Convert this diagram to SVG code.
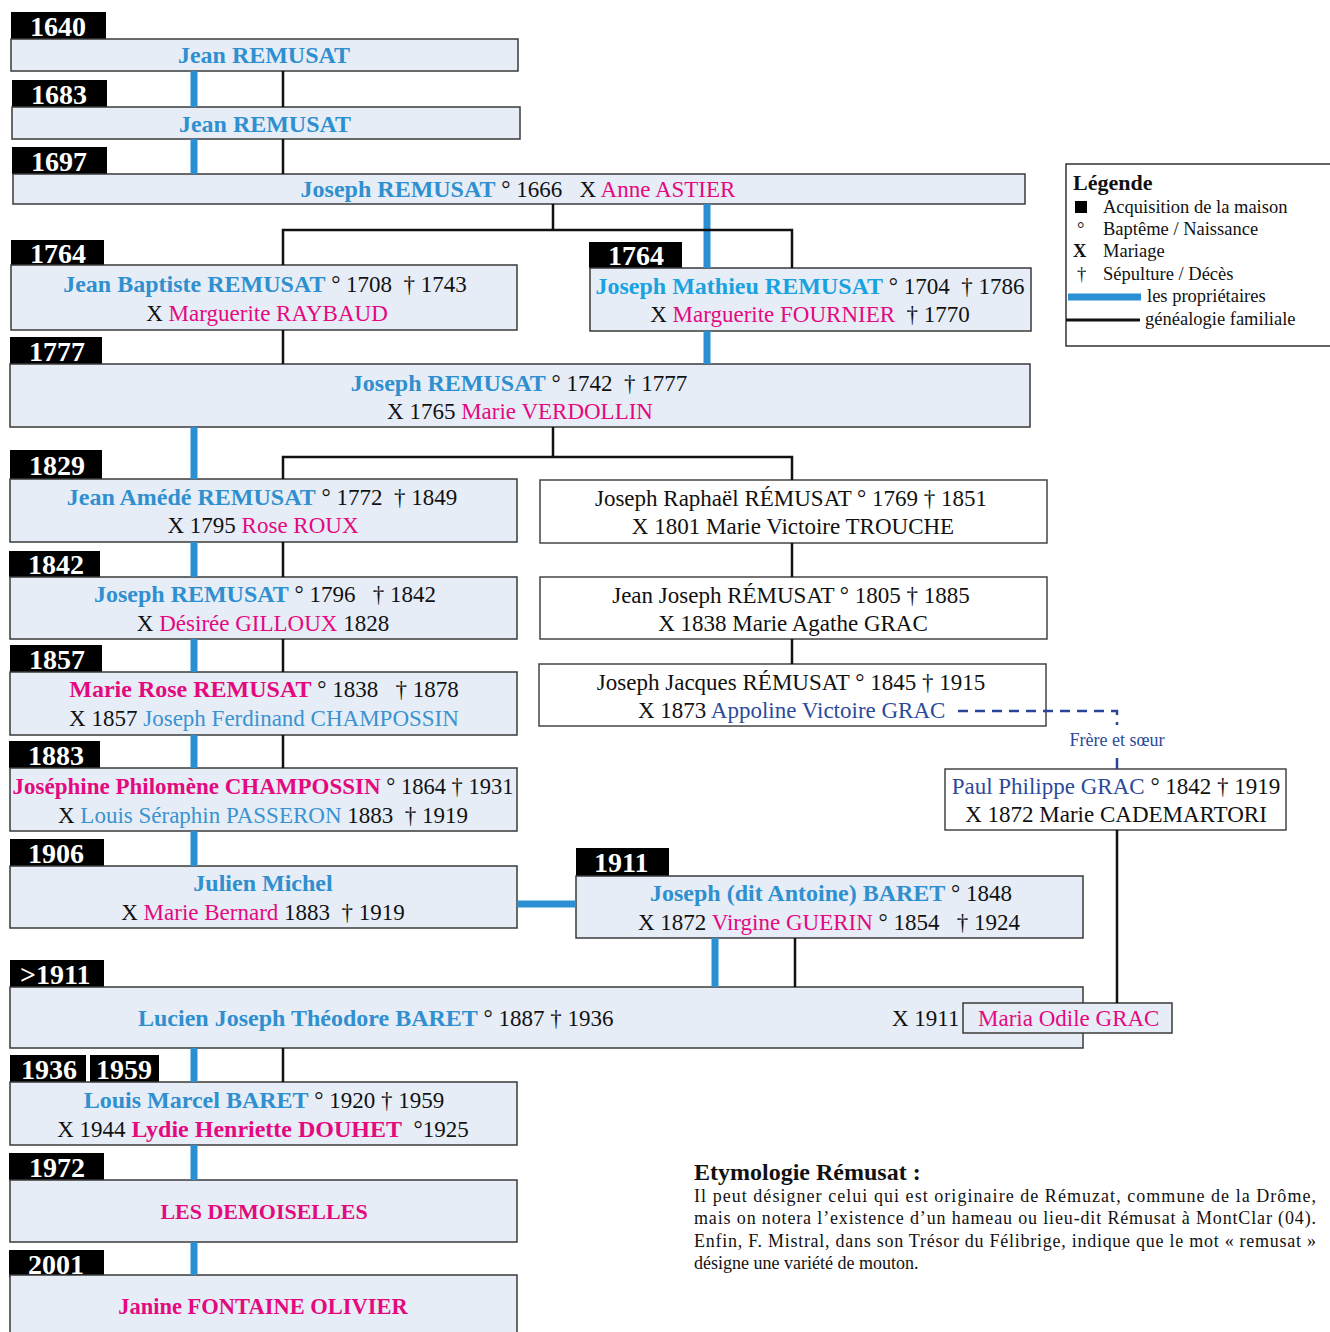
<svg xmlns="http://www.w3.org/2000/svg" width="1330" height="1332" viewBox="0 0 1330 1332">
<style>
.box{fill:#e6edf7;stroke:#3a3a3a;stroke-width:1.5}
.wbox{fill:#fff;stroke:#444;stroke-width:1.5}
.tag{fill:#000}
.yr{fill:#fff;font-family:"Liberation Serif",serif;font-weight:bold;font-size:28px}
.t{font-family:"Liberation Serif",serif;font-size:23px;fill:#111}
.c{text-anchor:middle}
.b{font-weight:bold;fill:#2f8fcf;font-size:24px}
.cy{font-weight:bold;fill:#1aa2e0;font-size:24px}
.p{fill:#e4097f}
.pb{font-weight:bold;fill:#e4097f;font-size:24px}
.lb{fill:#3a93d0}
.db{fill:#2c4a9a}
.own{stroke:#2b8fd3;stroke-width:7;fill:none}
.gen{stroke:#111;stroke-width:2.5;fill:none}
.lg{font-family:"Liberation Serif",serif;font-size:18.5px;fill:#111}
.ety{font-family:"Liberation Serif",serif;font-size:18px;fill:#111}
</style>
<rect width="1330" height="1332" fill="#fff"/>
<g id="n1640">
<rect class="tag" x="11" y="12" width="95" height="27"/><text class="yr" x="30" y="36">1640</text>
<rect class="box" x="11" y="39" width="507" height="32"/>
<text class="t c" x="264" y="63"><tspan class="b">Jean REMUSAT</tspan></text>
</g>
<g id="n1683">
<rect class="tag" x="12" y="80" width="95" height="27"/><text class="yr" x="31" y="104">1683</text>
<rect class="box" x="12" y="107" width="508" height="32"/>
<text class="t c" x="265" y="132"><tspan class="b">Jean REMUSAT</tspan></text>
</g>
<g id="n1697">
<rect class="tag" x="12" y="147" width="95" height="27"/><text class="yr" x="31" y="171">1697</text>
<rect class="box" x="13" y="174" width="1012" height="30"/>
<text class="t c" x="518" y="197"><tspan class="b">Joseph REMUSAT</tspan> ° 1666 &#160; X <tspan class="p">Anne ASTIER</tspan></text>
</g>
<g id="n1764a">
<rect class="tag" x="11" y="240" width="93" height="25"/><text class="yr" x="30" y="263">1764</text>
<rect class="box" x="11" y="265" width="506" height="65"/>
<text class="t c" x="265" y="292"><tspan class="b">Jean Baptiste REMUSAT</tspan> ° 1708 &#160;† 1743</text>
<text class="t c" x="267" y="321">X <tspan class="p">Marguerite RAYBAUD</tspan></text>
</g>
<g id="n1764b">
<rect class="tag" x="589" y="242" width="93" height="26"/><text class="yr" x="608" y="265">1764</text>
<rect class="box" x="590" y="268" width="441" height="63"/>
<text class="t c" x="810" y="294"><tspan class="cy">Joseph Mathieu REMUSAT</tspan> ° 1704 &#160;† 1786</text>
<text class="t c" x="810" y="322">X <tspan class="p">Marguerite FOURNIER</tspan> &#160;† 1770</text>
</g>
<g id="n1777">
<rect class="tag" x="10" y="337" width="92" height="27"/><text class="yr" x="29" y="361">1777</text>
<rect class="box" x="10" y="364" width="1020" height="63"/>
<text class="t c" x="519" y="391"><tspan class="b">Joseph REMUSAT</tspan> ° 1742 &#160;† 1777</text>
<text class="t c" x="520" y="419">X 1765 <tspan class="p">Marie VERDOLLIN</tspan></text>
</g>
<g id="n1829">
<rect class="tag" x="10" y="450" width="92" height="29"/><text class="yr" x="29" y="475">1829</text>
<rect class="box" x="10" y="479" width="507" height="63"/>
<text class="t c" x="262" y="505"><tspan class="b">Jean Amédé REMUSAT</tspan> ° 1772 &#160;† 1849</text>
<text class="t c" x="263" y="533">X 1795 <tspan class="p">Rose ROUX</tspan></text>
</g>
<g id="nRaphael">
<rect class="wbox" x="540" y="480" width="507" height="63"/>
<text class="t c" x="791" y="506">Joseph Raphaël RÉMUSAT ° 1769 † 1851</text>
<text class="t c" x="793" y="534">X 1801 Marie Victoire TROUCHE</text>
</g>
<g id="nJeanJoseph">
<rect class="wbox" x="540" y="577" width="507" height="62"/>
<text class="t c" x="791" y="603">Jean Joseph RÉMUSAT ° 1805 † 1885</text>
<text class="t c" x="793" y="631">X 1838 Marie Agathe GRAC</text>
</g>
<g id="nJacques">
<rect class="wbox" x="539" y="664" width="507" height="62"/>
<text class="t c" x="791" y="690">Joseph Jacques RÉMUSAT ° 1845 † 1915</text>
<text class="t" x="638" y="718">X 1873 <tspan class="db">Appoline Victoire GRAC</tspan></text>
</g>
<g id="frere">
<text class="t db c" x="1117" y="746" style="font-size:18px">Frère et sœur</text>
</g>
<g id="nPaul">
<rect class="wbox" x="945" y="769" width="341" height="61"/>
<text class="t c" x="1116" y="794"><tspan class="db">Paul Philippe GRAC</tspan> ° 1842 † 1919</text>
<text class="t c" x="1116" y="822">X 1872 Marie CADEMARTORI</text>
</g>
<g id="n1842">
<rect class="tag" x="9" y="551" width="91" height="26"/><text class="yr" x="28" y="574">1842</text>
<rect class="box" x="10" y="577" width="507" height="62"/>
<text class="t c" x="265" y="602"><tspan class="b">Joseph REMUSAT</tspan> ° 1796 &#160; † 1842</text>
<text class="t c" x="263" y="631">X <tspan class="p">Désirée GILLOUX</tspan> 1828</text>
</g>
<g id="n1857">
<rect class="tag" x="10" y="645" width="92" height="27"/><text class="yr" x="29" y="669">1857</text>
<rect class="box" x="10" y="672" width="507" height="63"/>
<text class="t c" x="264" y="697"><tspan class="pb">Marie Rose REMUSAT</tspan> ° 1838 &#160; † 1878</text>
<text class="t c" x="264" y="726">X 1857 <tspan class="lb">Joseph Ferdinand CHAMPOSSIN</tspan></text>
</g>
<g id="n1883">
<rect class="tag" x="9" y="741" width="91" height="27"/><text class="yr" x="28" y="765">1883</text>
<rect class="box" x="10" y="768" width="507" height="63"/>
<text class="t c" x="263" y="794" style="font-size:22.5px"><tspan class="pb" style="font-size:23px">Joséphine Philomène CHAMPOSSIN</tspan> ° 1864 † 1931</text>
<text class="t c" x="263" y="823">X <tspan class="lb">Louis Séraphin PASSERON</tspan> 1883 &#160;† 1919</text>
</g>
<g id="n1906">
<rect class="tag" x="10" y="839" width="94" height="27"/><text class="yr" x="28" y="863">1906</text>
<rect class="box" x="10" y="866" width="507" height="62"/>
<text class="t c" x="263" y="891"><tspan class="b">Julien Michel</tspan></text>
<text class="t c" x="263" y="920">X <tspan class="p">Marie Bernard</tspan> 1883 &#160;† 1919</text>
</g>
<g id="n1911">
<rect class="tag" x="576" y="848" width="93" height="28"/><text class="yr" x="594" y="872">1911</text>
<rect class="box" x="576" y="876" width="507" height="62"/>
<text class="t c" x="831" y="901"><tspan class="b">Joseph (dit Antoine) BARET</tspan> ° 1848</text>
<text class="t c" x="829" y="930">X 1872 <tspan class="p">Virgine GUERIN</tspan> ° 1854 &#160; † 1924</text>
</g>
<g id="nLucien">
<rect class="tag" x="10" y="960" width="94" height="27"/><text class="yr" x="20" y="984">&gt;1911</text>
<rect class="box" x="10" y="987" width="1073" height="61"/>
<text class="t" x="138" y="1026"><tspan class="b">Lucien Joseph Théodore BARET</tspan> ° 1887 † 1936</text>
<text class="t" x="892" y="1026">X 1911</text>
</g>
<g id="nMaria">
<rect class="box" x="963" y="1003" width="209" height="30"/>
<text class="t p" x="978" y="1026">Maria Odile GRAC</text>
</g>
<g id="n1936">
<rect class="tag" x="10" y="1055" width="76" height="27"/><text class="yr" x="21" y="1079">1936</text>
<rect class="tag" x="90" y="1055" width="69" height="27"/><text class="yr" x="96" y="1079">1959</text>
<rect class="box" x="10" y="1082" width="507" height="63"/>
<text class="t c" x="264" y="1108"><tspan class="b">Louis Marcel BARET</tspan> ° 1920 † 1959</text>
<text class="t c" x="263" y="1137">X 1944 <tspan class="pb">Lydie Henriette DOUHET</tspan> &#160;°1925</text>
</g>
<g id="n1972">
<rect class="tag" x="9" y="1153" width="95" height="27"/><text class="yr" x="29" y="1177">1972</text>
<rect class="box" x="10" y="1180" width="507" height="62"/>
<text class="t c" x="264" y="1219"><tspan class="pb" style="font-size:22px">LES DEMOISELLES</tspan></text>
</g>
<g id="n2001">
<rect class="tag" x="9" y="1250" width="95" height="27"/><text class="yr" x="28" y="1274">2001</text>
<rect class="box" x="10" y="1275" width="507" height="70"/>
<text class="t c" x="263" y="1314"><tspan class="pb" style="font-size:22.5px">Janine FONTAINE OLIVIER</tspan></text>
</g>
<g id="connectors">
<line class="own" x1="194" y1="71" x2="194" y2="107"/>
<line class="gen" x1="283" y1="71" x2="283" y2="107"/>
<line class="own" x1="194" y1="139" x2="194" y2="174"/>
<line class="gen" x1="283" y1="139" x2="283" y2="174"/>
<line class="own" x1="707" y1="204" x2="707" y2="268"/>
<polyline class="gen" points="553,204 553,230"/>
<polyline class="gen" points="283,265 283,230 792,230 792,268"/>
<line class="gen" x1="283" y1="330" x2="283" y2="364"/>
<line class="own" x1="707" y1="331" x2="707" y2="364"/>
<line class="own" x1="194" y1="427" x2="194" y2="479"/>
<polyline class="gen" points="553,427 553,457"/>
<polyline class="gen" points="283,479 283,457 792,457 792,480"/>
<line class="gen" x1="792" y1="543" x2="792" y2="577"/>
<line class="gen" x1="792" y1="639" x2="792" y2="664"/>
<line class="own" x1="194" y1="542" x2="194" y2="577"/>
<line class="gen" x1="283" y1="542" x2="283" y2="577"/>
<line class="own" x1="194" y1="639" x2="194" y2="672"/>
<line class="gen" x1="283" y1="639" x2="283" y2="672"/>
<line class="own" x1="194" y1="735" x2="194" y2="768"/>
<line class="gen" x1="283" y1="735" x2="283" y2="768"/>
<line class="own" x1="194" y1="831" x2="194" y2="866"/>
<line class="own" x1="517" y1="904" x2="576" y2="904"/>
<line class="own" x1="715" y1="938" x2="715" y2="987"/>
<line class="gen" x1="795" y1="938" x2="795" y2="987"/>
<polyline points="958,711 1117,711 1117,725" fill="none" stroke="#2a4596" stroke-width="2.5" stroke-dasharray="10,7"/>
<line x1="1117" y1="758" x2="1117" y2="769" stroke="#2a4596" stroke-width="2.5"/>
<line class="gen" x1="1117" y1="830" x2="1117" y2="1003"/>
<line class="own" x1="194" y1="1048" x2="194" y2="1082"/>
<line class="gen" x1="283" y1="1048" x2="283" y2="1082"/>
<line class="own" x1="194" y1="1145" x2="194" y2="1180"/>
<line class="own" x1="194" y1="1242" x2="194" y2="1275"/>
</g>
<g id="legend">
<path d="M1335,164 H1066 V346 H1335" fill="#fff" stroke="#333" stroke-width="1.5"/>
<text class="lg" x="1073" y="190" style="font-weight:bold;font-size:22px">Légende</text>
<rect x="1075" y="201" width="12" height="12" fill="#000"/>
<text class="lg" x="1103" y="213">Acquisition de la maison</text>
<text class="lg" x="1077" y="235">°</text>
<text class="lg" x="1103" y="235">Baptême / Naissance</text>
<text class="lg" x="1073" y="257" style="font-weight:bold">X</text>
<text class="lg" x="1103" y="257">Mariage</text>
<text class="lg" x="1077" y="280">†</text>
<text class="lg" x="1103" y="280">Sépulture / Décès</text>
<line class="own" x1="1068" y1="297" x2="1141" y2="297"/>
<text class="lg" x="1147" y="302">les propriétaires</text>
<line x1="1066" y1="320" x2="1140" y2="320" stroke="#111" stroke-width="3"/>
<text class="lg" x="1145" y="325">généalogie familiale</text>
</g>
<g id="etymologie">
<text class="ety" x="694" y="1180" style="font-weight:bold;font-size:24px">Etymologie Rémusat :</text>
<text class="ety" x="694" y="1202" textLength="622" lengthAdjust="spacing">Il peut désigner celui qui est originaire de Rémuzat, commune de la Drôme,</text>
<text class="ety" x="694" y="1224" textLength="622" lengthAdjust="spacing">mais on notera l’existence d’un hameau ou lieu-dit Rémusat à MontClar (04).</text>
<text class="ety" x="694" y="1247" textLength="622" lengthAdjust="spacing">Enfin, F. Mistral, dans son Trésor du Félibrige, indique que le mot « remusat »</text>
<text class="ety" x="694" y="1269">désigne une variété de mouton.</text>
</g>
</svg>
